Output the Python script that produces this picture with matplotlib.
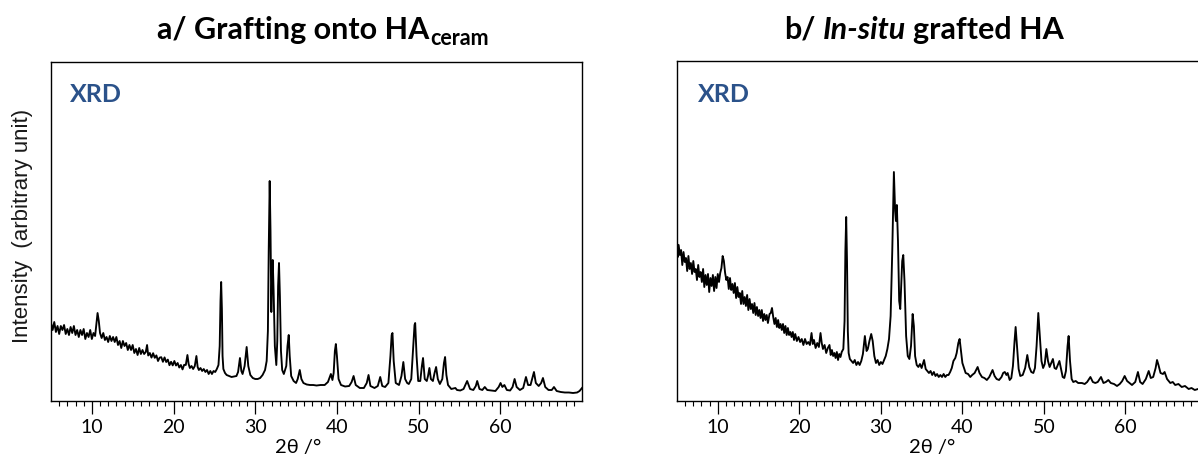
import matplotlib
matplotlib.use("Agg")
import matplotlib.pyplot as plt
from matplotlib.ticker import FixedLocator

plt.rcParams['font.family'] = ['Lato', 'DejaVu Sans']

# ---------------- data (2theta in degrees, intensity in arbitrary units) ----------------
two_theta_a = [
    5.0, 5.2, 5.4, 5.6, 5.8, 6.0, 6.2, 6.4, 6.6, 6.8, 7.0, 7.2, 7.4, 7.6, 7.8, 8.0, 8.2, 8.4, 8.6, 8.8,
    9.0, 9.2, 9.4, 9.6, 9.8, 10.0, 10.2, 10.4, 10.55, 10.7, 10.85, 11.0, 11.2, 11.4, 11.6, 11.8, 12.0,
    12.2, 12.4, 12.6, 12.8, 13.0, 13.2, 13.4, 13.6, 13.8, 14.0, 14.2, 14.4, 14.6, 14.8, 15.0, 15.2, 15.4,
    15.6, 15.8, 16.0, 16.2, 16.4, 16.6, 16.76, 16.9, 17.1, 17.3, 17.5, 17.7, 17.9, 18.1, 18.3, 18.5,
    18.7, 18.9, 19.1, 19.3, 19.5, 19.7, 19.9, 20.1, 20.3, 20.5, 20.7, 20.9, 21.1, 21.3, 21.5, 21.7,
    21.85, 22.0, 22.2, 22.4, 22.6, 22.8, 22.95, 23.1, 23.3, 23.5, 23.7, 23.9, 24.1, 24.3, 24.5, 24.7,
    24.9, 25.1, 25.3, 25.5, 25.65, 25.75, 25.83, 25.92, 26.0, 26.1, 26.3, 26.5, 26.8, 27.1, 27.4, 27.7,
    27.9, 28.13, 28.3, 28.45, 28.7, 28.95, 29.15, 29.4, 29.7, 30.0, 30.3, 30.6, 30.9, 31.2, 31.4, 31.55,
    31.65, 31.77, 31.87, 31.97, 32.05, 32.14, 32.25, 32.4, 32.58, 32.7, 32.8, 32.91, 33.02, 33.15, 33.3,
    33.5, 33.8, 33.95, 34.1, 34.22, 34.4, 34.7, 35.0, 35.2, 35.45, 35.65, 35.9, 36.3, 36.7, 37.1, 37.5,
    38.0, 38.5, 38.9, 39.26, 39.45, 39.6, 39.75, 39.87, 40.0, 40.2, 40.5, 41.0, 41.5, 41.8, 42.04, 42.3,
    42.8, 43.3, 43.65, 43.87, 44.1, 44.6, 45.0, 45.3, 45.55, 45.9, 46.3, 46.55, 46.7, 46.8, 46.95, 47.2,
    47.6, 47.9, 48.13, 48.35, 48.6, 48.8, 49.1, 49.35, 49.5, 49.58, 49.75, 49.95, 50.2, 50.4, 50.54,
    50.75, 51.0, 51.15, 51.32, 51.5, 51.75, 51.95, 52.14, 52.35, 52.6, 52.9, 53.1, 53.24, 53.4, 53.6,
    54.0, 54.5, 54.7, 55.1, 55.5, 55.94, 56.3, 56.7, 57.0, 57.17, 57.45, 57.8, 58.1, 58.4, 58.9, 59.4,
    59.8, 60.03, 60.25, 60.5, 60.8, 61.2, 61.5, 61.75, 62.0, 62.4, 62.8, 63.14, 63.4, 63.7, 63.95, 64.12,
    64.35, 64.7, 65.0, 65.22, 65.5, 65.9, 66.3, 66.57, 66.9, 67.4, 67.9, 68.4, 68.9, 69.4, 69.7, 70.0,
]
intensity_a = [
    78, 71, 79, 69, 75, 67, 75, 71, 76, 67, 72, 66, 74, 68, 75, 66, 71, 64, 71, 66,
    72, 62, 68, 64, 71, 62, 68, 65, 76, 88, 80, 68, 63, 68, 61, 64, 59,
    65, 60, 64, 59, 64, 56, 60, 53, 60, 55, 58, 51, 56, 51, 56, 48, 52,
    46, 53, 47, 51, 47, 49, 56, 45.5, 48, 43.4, 47.8, 43.2, 45.6, 40, 43.4, 43.8,
    39.2, 43.6, 39, 41.4, 35.8, 39.2, 35.6, 40, 35.5, 38, 33.5, 36, 31.6, 36.2, 36, 46,
    37, 33, 35, 32, 35, 45, 34, 31, 33, 30, 32, 29, 31, 27, 30, 27,
    30, 29, 32, 36, 55, 100, 119, 92, 45, 32, 28, 26, 25, 24, 24.5, 25,
    29, 43, 30, 27, 35, 54, 35, 26, 23, 22, 22, 23, 26, 31, 40, 70,
    150, 220, 170, 89, 120, 141, 110, 55, 36, 60, 115, 138, 105, 50, 31,
    27, 35, 55, 66, 45, 25, 20, 18, 22, 31, 22, 18, 16.5, 16, 16, 15.5,
    16, 16, 19, 27, 21, 28, 50, 57, 45, 22, 16, 14.5, 15, 19, 25, 16,
    13, 13, 18, 26, 15, 13, 15, 24, 15, 14, 18, 45, 66, 68, 40, 18,
    16, 25, 39, 22, 18, 17, 22, 55, 76, 78, 45, 20, 20, 35, 43,
    22, 20, 25, 33, 22, 20, 28, 34, 22, 17, 22, 38, 44, 26, 16,
    12, 13, 11, 10.5, 12, 20, 12, 11, 15, 20, 12, 11, 14, 11, 10.5, 10,
    14, 18, 14, 16, 11, 10.5, 14, 22, 14, 11, 13, 24, 16, 16, 24, 29,
    18, 15, 18, 23, 14, 11, 11, 14, 10, 9, 8.5, 8.5, 8, 8.5, 10, 13,
]

two_theta_b = [
    5.0, 5.1, 5.2, 5.35, 5.5, 5.65, 5.8, 5.95, 6.1, 6.25, 6.4, 6.55, 6.7, 6.85, 7.0, 7.15, 7.3, 7.45,
    7.6, 7.75, 7.9, 8.05, 8.2, 8.35, 8.5, 8.65, 8.8, 8.95, 9.1, 9.25, 9.4, 9.55, 9.7, 9.85, 10.0, 10.15,
    10.3, 10.45, 10.6, 10.75, 10.9, 11.05, 11.2, 11.35, 11.5, 11.65, 11.8, 11.95, 12.1, 12.25, 12.4,
    12.55, 12.7, 12.85, 13.0, 13.15, 13.3, 13.45, 13.6, 13.75, 13.9, 14.05, 14.2, 14.35, 14.5, 14.65,
    14.8, 14.95, 15.1, 15.25, 15.4, 15.55, 15.7, 15.85, 16.0, 16.15, 16.35, 16.5, 16.65, 16.8, 16.95,
    17.1, 17.25, 17.4, 17.55, 17.7, 17.85, 18.0, 18.15, 18.3, 18.45, 18.6, 18.75, 18.9, 19.05, 19.2,
    19.35, 19.5, 19.7, 19.9, 20.1, 20.3, 20.5, 20.7, 20.9, 21.1, 21.3, 21.5, 21.65, 21.8, 22.0, 22.2,
    22.4, 22.6, 22.75, 22.9, 23.1, 23.3, 23.5, 23.7, 23.85, 24.0, 24.15, 24.3, 24.45, 24.6, 24.75, 24.9,
    25.05, 25.2, 25.4, 25.55, 25.65, 25.75, 25.85, 25.95, 26.05, 26.2, 26.4, 26.6, 26.8, 27.0, 27.2,
    27.4, 27.6, 27.8, 28.04, 28.25, 28.4, 28.6, 28.82, 29.0, 29.2, 29.4, 29.6, 29.8, 30.0, 30.2, 30.4,
    30.6, 30.8, 31.0, 31.2, 31.4, 31.6, 31.75, 31.85, 31.96, 32.1, 32.25, 32.38, 32.5, 32.62, 32.75,
    32.9, 33.1, 33.3, 33.5, 33.7, 33.9, 34.05, 34.2, 34.4, 34.6, 34.8, 35.0, 35.3, 35.5, 35.7, 35.9,
    36.1, 36.3, 36.5, 36.7, 36.9, 37.1, 37.3, 37.5, 37.7, 37.9, 38.1, 38.3, 38.5, 38.7, 38.9, 39.13,
    39.3, 39.5, 39.66, 39.8, 40.0, 40.2, 40.4, 40.7, 40.97, 41.2, 41.5, 41.87, 42.1, 42.4, 42.7, 43.0,
    43.3, 43.7, 43.95, 44.2, 44.5, 44.8, 45.0, 45.2, 45.4, 45.55, 45.8, 46.0, 46.2, 46.4, 46.53, 46.7,
    46.9, 47.1, 47.4, 47.7, 47.96, 48.2, 48.45, 48.7, 48.9, 49.1, 49.31, 49.5, 49.7, 49.9, 50.1, 50.3,
    50.5, 50.7, 50.9, 51.1, 51.3, 51.5, 51.7, 51.9, 52.1, 52.3, 52.5, 52.7, 52.9, 53.03, 53.2, 53.4,
    53.6, 53.9, 54.2, 54.66, 55.0, 55.3, 55.7, 56.0, 56.3, 56.6, 57.0, 57.3, 57.6, 57.9, 58.2, 58.6,
    58.96, 59.3, 59.6, 59.9, 60.2, 60.5, 60.8, 61.2, 61.53, 61.8, 62.1, 62.5, 62.85, 63.1, 63.4, 63.7,
    63.87, 64.05, 64.3, 64.6, 64.8, 65.1, 65.5, 65.8, 66.1, 66.5, 66.9, 67.3, 67.75, 68.1, 68.5, 68.9,
    69.4, 70.0,
]
intensity_b = [
    160, 144, 156, 146, 151, 136, 149, 139, 143, 130, 145, 132, 138, 127, 140, 129, 132, 121,
    136, 124, 129, 119, 132, 114, 126, 116, 127, 109, 123, 115, 126, 110, 124, 113, 127, 119,
    128, 133, 145, 140, 128, 121, 124, 112, 123, 111, 117, 108, 118, 103, 114,
    104, 108, 97, 110, 97, 104, 95, 106, 91, 102, 92, 97, 88, 98, 86,
    94, 85, 91, 83, 91, 80, 87, 81, 86, 78, 87, 88, 93, 84, 77,
    83, 74, 81, 73, 77, 71, 77, 68, 75, 66, 73, 66, 69, 64, 69,
    61, 67, 60, 64, 59, 62, 56, 62, 57, 59, 56, 68, 57, 61, 53, 58,
    54, 68, 58, 52, 56, 48, 53, 56, 46, 51, 45, 48, 43, 49, 41, 47,
    44, 49, 52, 80, 150, 184, 140, 70, 48, 42, 40, 38, 41, 36, 39,
    36, 40, 47, 65, 50, 52, 60, 67, 60, 45, 38, 41, 36, 39, 37, 41,
    45, 52, 62, 85, 150, 229, 190, 180, 196, 160, 100, 92, 115, 140, 146,
    120, 65, 45, 42, 55, 87, 75, 45, 36, 34, 37, 33, 41, 32, 30, 28,
    30, 26, 29, 25, 27, 24, 26, 24, 27, 24, 26, 26, 29, 33, 40, 43,
    48, 58, 62, 52, 38, 33, 28, 27, 24, 26, 28, 34, 28, 24, 23, 21,
    24, 31, 25, 22, 21, 24, 28, 29, 26, 28, 21, 23, 35, 60, 74, 55,
    32, 25, 26, 33, 46, 34, 29, 28, 33, 55, 88, 65, 40, 33, 37, 52,
    40, 34, 38, 42, 33, 32, 36, 40, 32, 24, 23, 30, 55, 65, 40, 22,
    19, 20, 18, 18, 17, 19, 24, 19, 18, 19, 24, 18, 19, 21, 18, 17,
    15, 17, 20, 25, 20, 18, 16, 19, 29, 19, 17, 22, 30, 23, 24, 33,
    41, 36, 28, 27, 29, 22, 18, 19, 16, 17, 14, 15, 12, 13, 11, 12,
    11, 11,
]

major_ticks = [10, 20, 30, 40, 50, 60]
minor_ticks = [t for t in range(6, 70) if t % 10 != 0]
panel_titles = ["a/ Grafting onto HA", "b/ ", "In-situ", " grafted HA"]
title_sub_a = "ceram"
panel_tag = "XRD"
x_label = "2θ /°"
y_label = "Intensity  (arbitrary unit)"

# ---------------- figure ----------------
W, H = 1198, 458
fig = plt.figure(figsize=(W / 100, H / 100), dpi=100)


def fx(px):
    return px / W


def fy(py):
    return 1 - py / H


ax_a = fig.add_axes([fx(51), fy(401), 531 / W, 339 / H])
ax_b = fig.add_axes([fx(677), fy(401), 530 / W, 340 / H])

for ax, xs, ys, ytop in ((ax_a, two_theta_a, intensity_a, 339), (ax_b, two_theta_b, intensity_b, 340)):
    ax.plot(xs, ys, color='black', lw=1.35, solid_joinstyle='round')
    ax.set_xlim(5, 70)
    ax.set_ylim(0, ytop)
    ax.set_yticks([])
    ax.xaxis.set_major_locator(FixedLocator(major_ticks))
    ax.xaxis.set_minor_locator(FixedLocator(minor_ticks))
    ax.tick_params(axis='x', which='major', direction='out', length=9, width=0.9,
                   labelsize=14, pad=4, colors='black')
    ax.tick_params(axis='x', which='minor', direction='out', length=3.8, width=0.8)
    for sp in ax.spines.values():
        sp.set_linewidth(1.0)
        sp.set_color('black')

# tags
tag_color = '#2B528A'
fig.text(fx(70), fy(102), panel_tag, color=tag_color, fontsize=18, fontweight='bold',
         ha='left', va='baseline')
fig.text(fx(698), fy(102), panel_tag, color=tag_color, fontsize=18, fontweight='bold',
         ha='left', va='baseline')

# x labels
fig.text(fx(298), fy(447), x_label, fontsize=14.5, ha='center', va='center',
         family=['Lato', 'DejaVu Sans'])
fig.text(fx(932), fy(447), x_label, fontsize=14.5, ha='center', va='center',
         family=['Lato', 'DejaVu Sans'])

# y label
fig.text(fx(23), fy(226), y_label, fontsize=16, rotation=90, ha='center', va='center',
         family=['Liberation Sans', 'DejaVu Sans'], color='#1a1a1a')

# titles (sequential pieces)
fig.canvas.draw()
renderer = fig.canvas.get_renderer()

title_size = 22
t1 = fig.text(fx(157), fy(39), panel_titles[0], fontsize=title_size, fontweight='bold',
              ha='left', va='baseline')
bb = t1.get_window_extent(renderer)
fig.text((bb.x1 + 1) / W, fy(45), title_sub_a, fontsize=15.5, fontweight='bold',
         ha='left', va='baseline')

t2 = fig.text(fx(784), fy(39), panel_titles[1].strip(), fontsize=title_size, fontweight='bold',
              ha='left', va='baseline')
bb = t2.get_window_extent(renderer)
t3 = fig.text((bb.x1 + 7) / W, fy(39), panel_titles[2], fontsize=title_size, fontweight='bold',
              style='italic', ha='left', va='baseline')
bb = t3.get_window_extent(renderer)
fig.text((bb.x1 + 7) / W, fy(39), panel_titles[3].strip(), fontsize=title_size, fontweight='bold',
         ha='left', va='baseline')

fig.savefig("out.png", dpi=100)
